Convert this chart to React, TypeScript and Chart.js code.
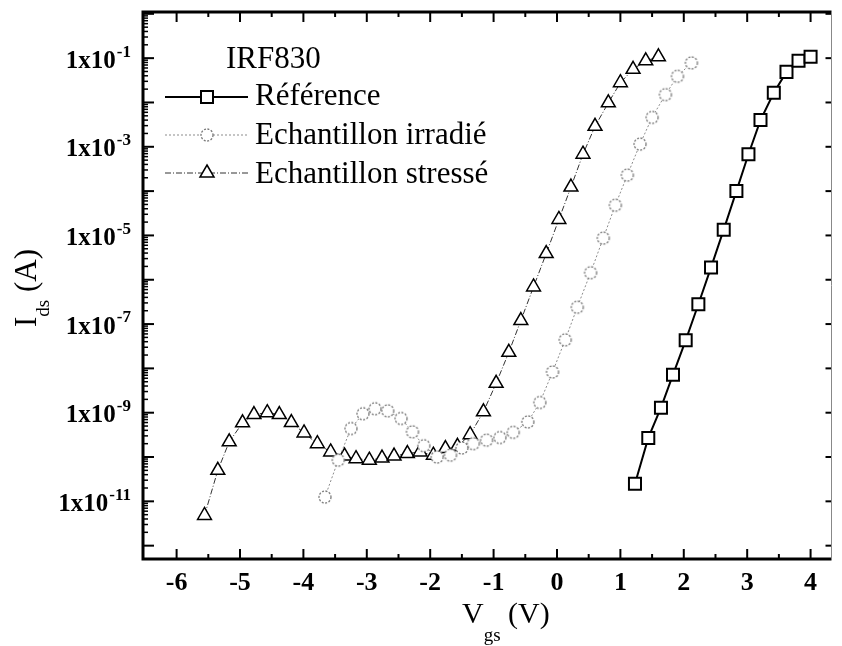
import React, { useEffect, useRef } from 'react';
import { Chart, registerables } from 'chart.js';

Chart.register(...registerables);

// ---- Data ----
const refVgs = [1.23, 1.44, 1.64, 1.83, 2.03, 2.23, 2.43, 2.63, 2.83, 3.02, 3.21, 3.42, 3.62, 3.81, 4.0];
const refIds = [2.5e-11, 2.7e-10, 1.3e-9, 7.2e-9, 4.3e-8, 2.8e-7, 1.9e-6, 1.35e-5, 1.0e-4, 6.8e-4, 4.0e-3, 1.65e-2, 4.9e-2, 8.7e-2, 1.07e-1];

const irrVgs = [-3.66, -3.45, -3.25, -3.06, -2.87, -2.67, -2.46, -2.28, -2.1, -1.89, -1.68, -1.5, -1.32, -1.11, -0.9, -0.69, -0.46, -0.27, -0.07, 0.13, 0.32, 0.53, 0.73, 0.92, 1.11, 1.31, 1.5, 1.71, 1.9, 2.12];
const irrIds = [1.25e-11, 8.5e-11, 4.4e-10, 9.5e-10, 1.23e-9, 1.1e-9, 7.4e-10, 3.7e-10, 1.8e-10, 1.0e-10, 1.1e-10, 1.6e-10, 2.0e-10, 2.4e-10, 2.75e-10, 3.6e-10, 6.2e-10, 1.7e-9, 8.3e-9, 4.4e-8, 2.4e-7, 1.44e-6, 8.7e-6, 4.8e-5, 2.3e-4, 1.15e-3, 4.6e-3, 1.5e-2, 3.9e-2, 7.8e-2];

const strVgs = [-5.56, -5.35, -5.17, -4.96, -4.78, -4.57, -4.38, -4.19, -3.99, -3.78, -3.57, -3.35, -3.17, -2.96, -2.76, -2.57, -2.36, -2.16, -1.95, -1.76, -1.57, -1.37, -1.16, -0.96, -0.76, -0.57, -0.37, -0.17, 0.03, 0.22, 0.41, 0.6, 0.81, 1.0, 1.2, 1.4, 1.6];
const strIds = [4.8e-12, 5.0e-11, 2.2e-10, 5.9e-10, 9.1e-10, 1.0e-9, 9.1e-10, 6.0e-10, 3.5e-10, 2.0e-10, 1.3e-10, 1.05e-10, 9.2e-11, 8.5e-11, 9.5e-11, 1.05e-10, 1.2e-10, 1.3e-10, 1.1e-10, 1.55e-10, 1.74e-10, 3.2e-10, 1.05e-9, 4.6e-9, 2.3e-8, 1.2e-7, 6.9e-7, 3.9e-6, 2.3e-5, 1.23e-4, 6.8e-4, 2.9e-3, 9.8e-3, 2.8e-2, 5.6e-2, 8.7e-2, 1.07e-1];

const seriesNames = ['Référence', 'Echantillon irradié', 'Echantillon stressé'];
const legendTitle = 'IRF830';

const xTickValues = [-6, -5, -4, -3, -2, -1, 0, 1, 2, 3, 4];
const xMinorTickValues = [-5.5, -4.5, -3.5, -2.5, -1.5, -0.5, 0.5, 1.5, 2.5, 3.5];
const yDecadeExps = [-12, -11, -10, -9, -8, -7, -6, -5, -4, -3, -2, -1, 0];
const yLabelExps = [-1, -3, -5, -7, -9, -11];

const X_MIN = -6.53;
const X_MAX = 4.33;
const Y_MIN = 5e-13;
const Y_MAX = 1.1;

const SERIF = "'Liberation Serif', 'Times New Roman', serif";

function makeCircleImage(): HTMLCanvasElement {
  const c = document.createElement('canvas');
  c.width = 16;
  c.height = 16;
  const g = c.getContext('2d')!;
  g.beginPath();
  g.arc(8, 8, 6, 0, Math.PI * 2);
  g.fillStyle = '#fff';
  g.fill();
  g.setLineDash([2, 1.5]);
  g.strokeStyle = '#7a7a7a';
  g.lineWidth = 1.3;
  g.stroke();
  return c;
}

function toPoints(xs: number[], ys: number[]) {
  return xs.map((x, i) => ({ x, y: ys[i] }));
}

let circleImg: HTMLCanvasElement;

const decorPlugin = {
  id: 'decor',
  afterDraw(chart: any) {
    const ctx: CanvasRenderingContext2D = chart.ctx;
    const { left, right, top, bottom } = chart.chartArea;
    const xs = chart.scales.x;
    const ys = chart.scales.y;
    const seg = (x1: number, y1: number, x2: number, y2: number) => {
      ctx.beginPath();
      ctx.moveTo(x1, y1);
      ctx.lineTo(x2, y2);
      ctx.stroke();
    };
    ctx.save();
    ctx.strokeStyle = '#000';
    ctx.lineCap = 'butt';

    // x ticks (bottom + top, inward)
    ctx.lineWidth = 2;
    xTickValues.forEach((v) => {
      const px = xs.getPixelForValue(v);
      seg(px, bottom, px, bottom - 10);
      seg(px, top, px, top + 10);
    });
    xMinorTickValues.forEach((v) => {
      const px = xs.getPixelForValue(v);
      seg(px, bottom, px, bottom - 5);
      seg(px, top, px, top + 5);
    });

    // y ticks
    yDecadeExps.forEach((e) => {
      const d = Math.pow(10, e);
      const py = ys.getPixelForValue(d);
      if (py >= top && py <= bottom) {
        ctx.lineWidth = 2;
        seg(left, py, left + 11, py);
        seg(right, py, right - 6, py);
      }
      ctx.lineWidth = 1.5;
      for (let k = 2; k <= 9; k++) {
        const pm = ys.getPixelForValue(k * d);
        if (pm >= top && pm <= bottom) seg(left, pm, left + 5, pm);
      }
    });

    // frame
    ctx.lineWidth = 3;
    ctx.beginPath();
    ctx.moveTo(right, top);
    ctx.lineTo(left, top);
    ctx.lineTo(left, bottom);
    ctx.lineTo(right, bottom);
    ctx.stroke();
    ctx.lineWidth = 1;
    ctx.strokeStyle = '#888';
    seg(right, top, right, bottom);
    ctx.strokeStyle = '#000';

    // x tick labels
    ctx.fillStyle = '#000';
    ctx.font = `bold 26px ${SERIF}`;
    ctx.textAlign = 'center';
    ctx.textBaseline = 'alphabetic';
    xTickValues.forEach((v) => {
      const px = xs.getPixelForValue(v);
      ctx.fillText(String(v), px, bottom + 31);
    });

    // y tick labels 1x10^n
    ctx.textAlign = 'left';
    ctx.textBaseline = 'middle';
    yLabelExps.forEach((e) => {
      const py = ys.getPixelForValue(Math.pow(10, e));
      const sup = String(e);
      ctx.font = `bold 17px ${SERIF}`;
      const ws = ctx.measureText(sup).width;
      ctx.font = `bold 25px ${SERIF}`;
      const wm = ctx.measureText('1x10').width;
      const xr = 131;
      ctx.fillText('1x10', xr - ws - wm - 1, py + 3);
      ctx.font = `bold 17px ${SERIF}`;
      ctx.fillText(sup, xr - ws, py - 6);
    });

    // x axis title V_gs (V)
    ctx.textBaseline = 'alphabetic';
    ctx.textAlign = 'left';
    ctx.font = `30px ${SERIF}`;
    let tx = 462;
    ctx.fillText('V', tx, 623);
    tx += ctx.measureText('V').width;
    ctx.font = `19px ${SERIF}`;
    ctx.fillText('gs', tx, 641);
    tx += ctx.measureText('gs').width;
    ctx.font = `30px ${SERIF}`;
    ctx.fillText(' (V)', tx, 623);

    // y axis title I_ds (A)
    ctx.save();
    ctx.translate(36, 327);
    ctx.rotate(-Math.PI / 2);
    ctx.font = `31px ${SERIF}`;
    let ty = 0;
    ctx.fillText('I', ty, 0);
    ty += ctx.measureText('I').width;
    ctx.font = `19px ${SERIF}`;
    ctx.fillText('ds', ty, 13);
    ty += ctx.measureText('ds').width;
    ctx.font = `31px ${SERIF}`;
    ctx.fillText(' (A)', ty, 0);
    ctx.restore();

    // legend
    ctx.font = `31px ${SERIF}`;
    ctx.fillStyle = '#000';
    ctx.fillText(legendTitle, 226, 68);
    const rows = [97, 135, 173];
    const baselines = [105, 144, 183];
    const x1 = 165;
    const x2 = 248;
    const mx = 207;
    // Reference
    ctx.setLineDash([]);
    ctx.lineWidth = 2;
    ctx.strokeStyle = '#000';
    seg(x1, rows[0], x2, rows[0]);
    ctx.fillStyle = '#fff';
    ctx.fillRect(mx - 6, rows[0] - 6, 12, 12);
    ctx.strokeRect(mx - 6, rows[0] - 6, 12, 12);
    // Irradié
    ctx.lineWidth = 1;
    ctx.strokeStyle = '#8c8c8c';
    ctx.setLineDash([2, 2]);
    seg(x1, rows[1], x2, rows[1]);
    ctx.setLineDash([]);
    ctx.drawImage(circleImg, mx - 8, rows[1] - 8);
    // Stressé
    ctx.strokeStyle = '#333';
    ctx.setLineDash([6, 2, 1, 2]);
    seg(x1, rows[2], x2, rows[2]);
    ctx.setLineDash([]);
    ctx.lineWidth = 1.5;
    ctx.strokeStyle = '#000';
    ctx.fillStyle = '#fff';
    ctx.beginPath();
    ctx.moveTo(mx, rows[2] - 8);
    ctx.lineTo(mx + 7, rows[2] + 4);
    ctx.lineTo(mx - 7, rows[2] + 4);
    ctx.closePath();
    ctx.fill();
    ctx.stroke();

    ctx.fillStyle = '#000';
    ctx.font = `31px ${SERIF}`;
    seriesNames.forEach((n, i) => ctx.fillText(n, 255, baselines[i]));

    ctx.restore();
  },
};

export default function App() {
  const canvasRef = useRef<HTMLCanvasElement | null>(null);

  useEffect(() => {
    const canvas = canvasRef.current;
    if (!canvas) return;
    circleImg = makeCircleImage();
    const chart = new Chart(canvas, {
      type: 'scatter',
      data: {
        datasets: [
          {
            label: seriesNames[0],
            data: toPoints(refVgs, refIds),
            showLine: true,
            borderColor: '#000',
            borderWidth: 2,
            pointStyle: 'rect',
            pointRadius: 8.5,
            pointBorderWidth: 2,
            pointBorderColor: '#000',
            pointBackgroundColor: '#fff',
          },
          {
            label: seriesNames[1],
            data: toPoints(irrVgs, irrIds),
            showLine: true,
            borderColor: '#8c8c8c',
            borderWidth: 1,
            borderDash: [2, 2],
            pointStyle: circleImg as any,
            pointRadius: 6,
          },
          {
            label: seriesNames[2],
            data: toPoints(strVgs, strIds),
            showLine: true,
            borderColor: '#333',
            borderWidth: 1,
            borderDash: [6, 2, 1, 2],
            pointStyle: 'triangle',
            pointRadius: 8,
            pointBorderWidth: 1.5,
            pointBorderColor: '#000',
            pointBackgroundColor: '#fff',
          },
        ],
      },
      options: {
        responsive: false,
        animation: false,
        devicePixelRatio: 1,
        layout: { padding: { left: 143, top: 12, right: 4, bottom: 87 } },
        plugins: { legend: { display: false }, tooltip: { enabled: false }, title: { display: false } },
        scales: {
          x: { type: 'linear', min: X_MIN, max: X_MAX, display: false, bounds: 'data' },
          y: { type: 'logarithmic', min: Y_MIN, max: Y_MAX, display: false, bounds: 'data' },
        },
      },
      plugins: [decorPlugin],
    });
    return () => chart.destroy();
  }, []);

  return (
    <div style={{ position: 'fixed', left: 0, top: 0, width: 842, height: 646, background: '#fff' }}>
      <canvas ref={canvasRef} width={842} height={646} style={{ display: 'block' }} />
    </div>
  );
}
